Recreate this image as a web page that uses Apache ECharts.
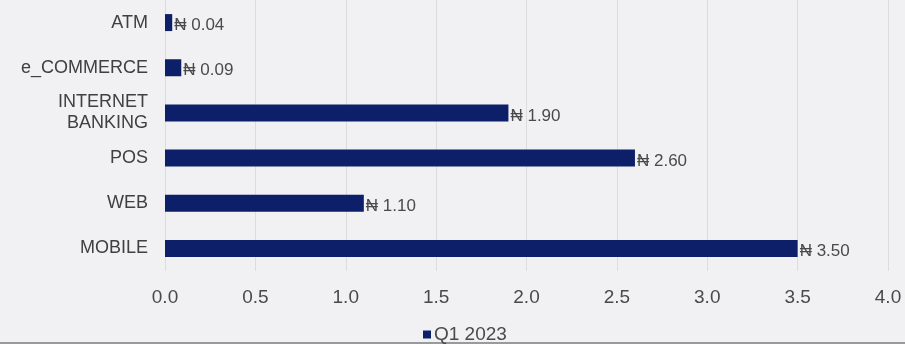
<!DOCTYPE html>
<html>
<head>
<meta charset="utf-8">
<script src="https://cdn.jsdelivr.net/npm/echarts@6/dist/echarts.min.js"></script>
<style>
	html, body { margin: 0; padding: 0; background: #f1f1f4; }
	#chart { width: 905px; height: 344px; }
</style>
</head>
<body>
<div id="chart"></div>
<script>
const channels = ['ATM', 'e_COMMERCE', 'INTERNET\nBANKING', 'POS', 'WEB', 'MOBILE'];
const q1Values = [0.04, 0.09, 1.9, 2.6, 1.1, 3.5];
const seriesName = 'Q1 2023';

const chart = echarts.init(document.getElementById('chart'));
const font = "'Liberation Sans', 'DejaVu Sans', sans-serif";

chart.setOption({
	backgroundColor: '#f1f1f4',
	textStyle: { fontFamily: font },
	grid: {
		left: 165,
		right: 17,
		top: -3,
		height: 274,
	},
	legend: {
		data: [seriesName],
		left: 423,
		top: 325,
		padding: 0,
		itemWidth: 8,
		itemHeight: 8,
		itemGap: 4,
		icon: 'rect',
		textStyle: { fontSize: 19, color: '#4a4a4a', fontFamily: font, padding: [0, 0, 0, -2] },
	},
	// thin frame edge along the bottom, as in the source screenshot
	graphic: [
		{
			type: 'rect',
			left: 0,
			top: 342,
			shape: { width: 905, height: 2 },
			style: { fill: '#9a9a9c' },
		},
	],
	xAxis: {
		type: 'value',
		min: 0,
		max: 4,
		interval: 0.5,
		axisLine: { show: false },
		axisTick: { show: false },
		splitLine: { lineStyle: { color: '#dcdcde' } },
		axisLabel: {
			fontSize: 19,
			color: '#4a4a4a',
			margin: 17,
			formatter: (v) => v.toFixed(1),
		},
	},
	yAxis: {
		type: 'category',
		inverse: true,
		data: channels,
		axisLine: { show: false },
		axisTick: { show: false },
		axisLabel: {
			fontSize: 18,
			color: '#404040',
			margin: 17,
			lineHeight: 21,
		},
	},
	series: [
		{
			name: seriesName,
			type: 'bar',
			data: q1Values,
			barWidth: 17,
			itemStyle: { color: '#0c1f68' },
			label: {
				show: true,
				position: 'right',
				distance: 2,
				offset: [0, 3],
				fontSize: 17,
				color: '#4a4a4a',
				formatter: (p) => '\u20A6 ' + p.value.toFixed(2),
			},
		},
	],
});
</script>
</body>
</html>
